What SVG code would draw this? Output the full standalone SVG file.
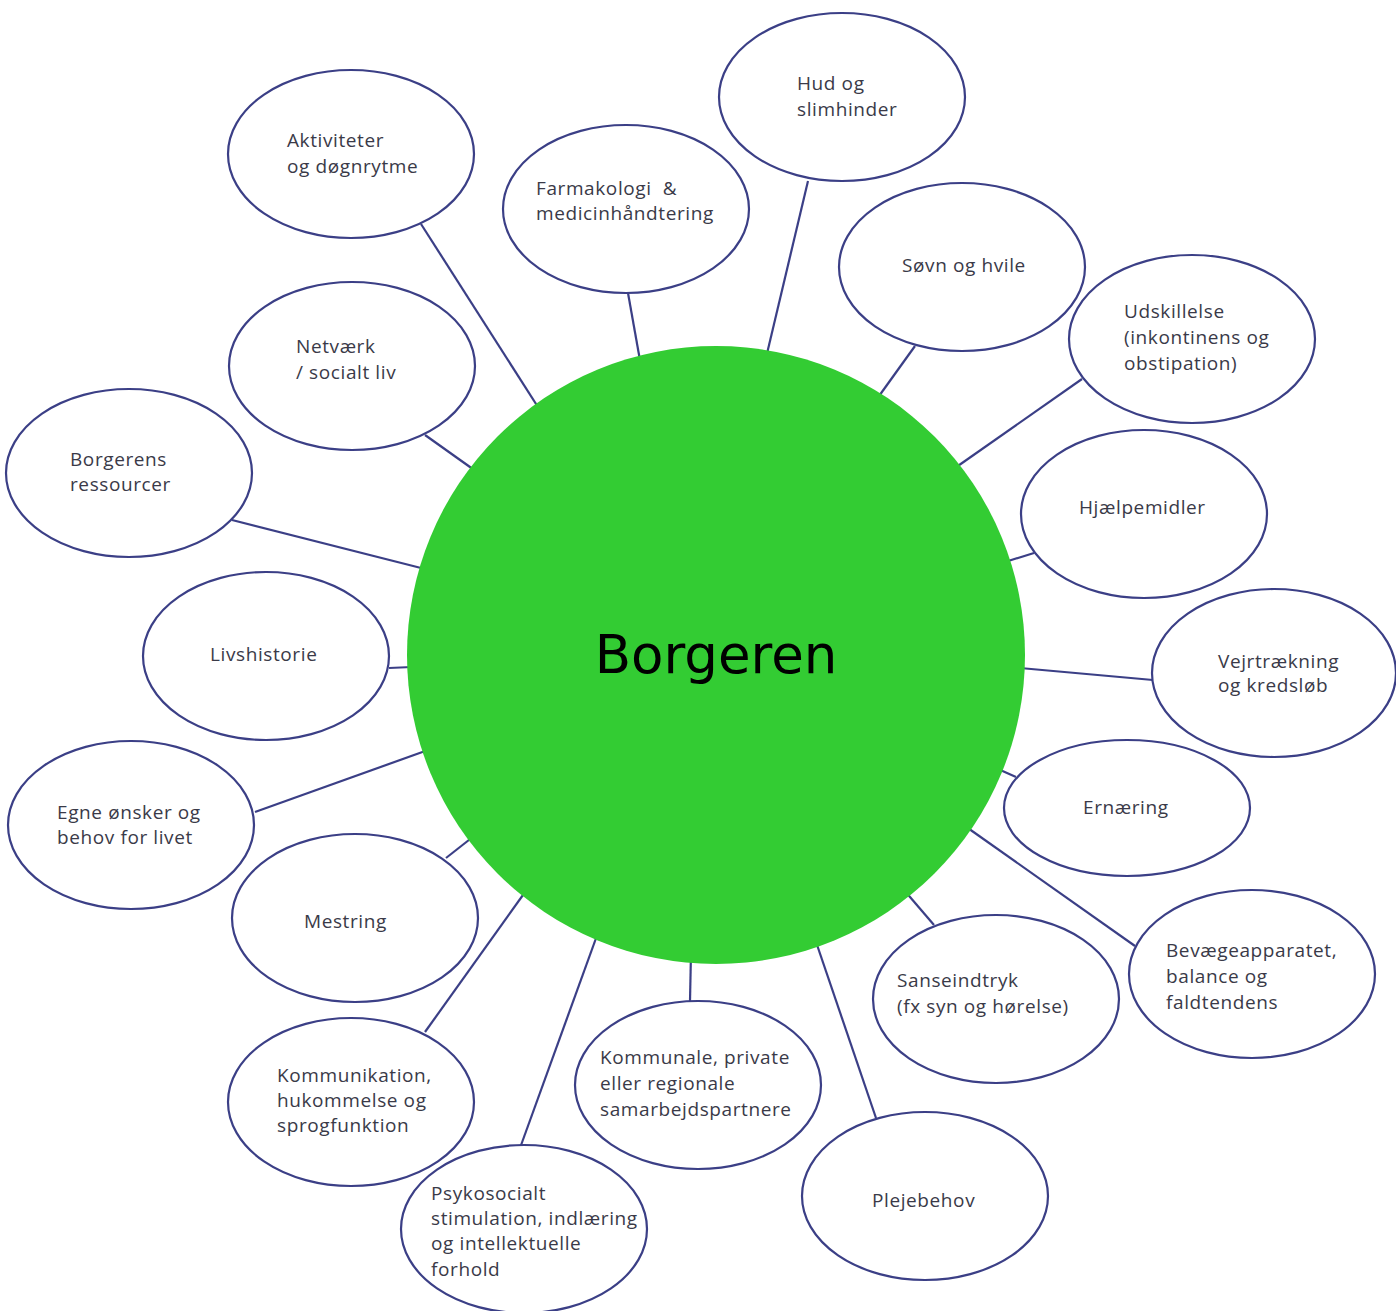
<svg xmlns="http://www.w3.org/2000/svg" width="1396" height="1311" viewBox="0 0 1396 1311">
<style>
.n ellipse{fill:#fff;stroke:#3b3f86;stroke-width:2.2}
.n text{font-family:"Open Sans","Liberation Sans",sans-serif;font-size:19px;fill:#3a3a48;letter-spacing:0.6px}
#links line{stroke:#3b3f86;stroke-width:2.2}
.c text{font-family:"DejaVu Sans","Liberation Sans",sans-serif;font-size:53px;fill:#000}
</style>
<rect width="1396" height="1311" fill="#fff"/>
<g id="links">
<line x1="421" y1="224" x2="545" y2="418"/>
<line x1="628" y1="293" x2="641" y2="366"/>
<line x1="808" y1="181" x2="765" y2="362"/>
<line x1="915" y1="346" x2="874" y2="403"/>
<line x1="1082" y1="379" x2="955" y2="468"/>
<line x1="1034" y1="553" x2="1005" y2="562"/>
<line x1="1020" y1="668" x2="1153" y2="680"/>
<line x1="998" y1="769" x2="1016" y2="777"/>
<line x1="965" y1="826" x2="1135" y2="946"/>
<line x1="904" y1="890" x2="934" y2="925"/>
<line x1="814" y1="936" x2="876" y2="1118"/>
<line x1="691" y1="952" x2="690" y2="1001"/>
<line x1="599" y1="930" x2="520" y2="1148"/>
<line x1="528" y1="888" x2="425" y2="1032"/>
<line x1="474" y1="836" x2="446" y2="858"/>
<line x1="428" y1="750" x2="255" y2="812"/>
<line x1="389" y1="668" x2="412" y2="667"/>
<line x1="232" y1="520" x2="425" y2="569"/>
<line x1="425" y1="435" x2="477" y2="472"/>
</g>
<g id="center" class="c">
<circle cx="716" cy="655" r="309" fill="#33cc33"/>
<text x="716" y="673" text-anchor="middle">Borgeren</text>
</g>
<g id="n-hud" class="n"><ellipse cx="842" cy="97" rx="123" ry="84"/><text x="797" y="90">Hud og</text><text x="797" y="116">slimhinder</text></g>
<g id="n-aktiviteter" class="n"><ellipse cx="351" cy="154" rx="123" ry="84"/><text x="287" y="147">Aktiviteter</text><text x="287" y="173">og døgnrytme</text></g>
<g id="n-farmakologi" class="n"><ellipse cx="626" cy="209" rx="123" ry="84"/><text x="536" y="195" xml:space="preserve">Farmakologi  &amp;</text><text x="536" y="220">medicinhåndtering</text></g>
<g id="n-soevn" class="n"><ellipse cx="962" cy="267" rx="123" ry="84"/><text x="902" y="272">Søvn og hvile</text></g>
<g id="n-udskillelse" class="n"><ellipse cx="1192" cy="339" rx="123" ry="84"/><text x="1124" y="318">Udskillelse</text><text x="1124" y="344">(inkontinens og</text><text x="1124" y="370">obstipation)</text></g>
<g id="n-netvaerk" class="n"><ellipse cx="352" cy="366" rx="123" ry="84"/><text x="296" y="353">Netværk</text><text x="296" y="379">/ socialt liv</text></g>
<g id="n-ressourcer" class="n"><ellipse cx="129" cy="473" rx="123" ry="84"/><text x="70" y="466">Borgerens</text><text x="70" y="491">ressourcer</text></g>
<g id="n-hjaelpemidler" class="n"><ellipse cx="1144" cy="514" rx="123" ry="84"/><text x="1079" y="514">Hjælpemidler</text></g>
<g id="n-livshistorie" class="n"><ellipse cx="266" cy="656" rx="123" ry="84"/><text x="210" y="661">Livshistorie</text></g>
<g id="n-vejrtraekning" class="n"><ellipse cx="1274" cy="673" rx="122" ry="84"/><text x="1218" y="668">Vejrtrækning</text><text x="1218" y="692">og kredsløb</text></g>
<g id="n-egne" class="n"><ellipse cx="131" cy="825" rx="123" ry="84"/><text x="57" y="819">Egne ønsker og</text><text x="57" y="844">behov for livet</text></g>
<g id="n-ernaering" class="n"><ellipse cx="1127" cy="808" rx="123" ry="68"/><text x="1083" y="814">Ernæring</text></g>
<g id="n-mestring" class="n"><ellipse cx="355" cy="918" rx="123" ry="84"/><text x="304" y="928">Mestring</text></g>
<g id="n-sanseindtryk" class="n"><ellipse cx="996" cy="999" rx="123" ry="84"/><text x="897" y="987">Sanseindtryk</text><text x="897" y="1013">(fx syn og hørelse)</text></g>
<g id="n-bevaege" class="n"><ellipse cx="1252" cy="974" rx="123" ry="84"/><text x="1166" y="957">Bevægeapparatet,</text><text x="1166" y="983">balance og</text><text x="1166" y="1009">faldtendens</text></g>
<g id="n-kommunale" class="n"><ellipse cx="698" cy="1085" rx="123" ry="84"/><text x="600" y="1064">Kommunale, private</text><text x="600" y="1090">eller regionale</text><text x="600" y="1116">samarbejdspartnere</text></g>
<g id="n-kommunikation" class="n"><ellipse cx="351" cy="1102" rx="123" ry="84"/><text x="277" y="1082">Kommunikation,</text><text x="277" y="1107">hukommelse og</text><text x="277" y="1132">sprogfunktion</text></g>
<g id="n-plejebehov" class="n"><ellipse cx="925" cy="1196" rx="123" ry="84"/><text x="872" y="1207">Plejebehov</text></g>
<g id="n-psykosocialt" class="n"><ellipse cx="524" cy="1229" rx="123" ry="84"/><text x="431" y="1200">Psykosocialt</text><text x="431" y="1225">stimulation, indlæring</text><text x="431" y="1250">og intellektuelle</text><text x="431" y="1276">forhold</text></g>
</svg>
